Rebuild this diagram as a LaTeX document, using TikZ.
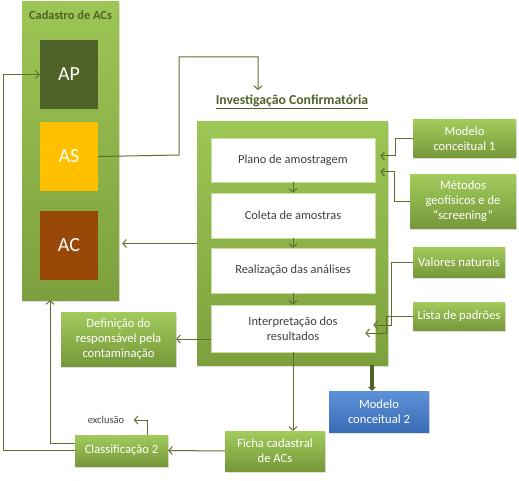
\documentclass[tikz,border=0pt]{standalone}
\usepackage{fontspec}
\setmainfont{Carlito}
\usetikzlibrary{arrows.meta,shadows,calc}
\definecolor{lnc}{HTML}{5E6E2E}
\definecolor{dkg}{HTML}{4F6228}
\definecolor{gtop}{HTML}{A2CB5C}
\definecolor{gbot}{HTML}{76983A}
\definecolor{ctop}{HTML}{9CC655}
\definecolor{cbot}{HTML}{7DA03E}
\definecolor{btop}{HTML}{5D92D8}
\definecolor{bbot}{HTML}{3A6CB5}
\definecolor{txg}{HTML}{404040}
\definecolor{asyel}{HTML}{FFC000}
\definecolor{acbrn}{HTML}{984807}
\tikzset{
  shad/.style={drop shadow={opacity=0.25,shadow xshift=1.2pt,shadow yshift=-1.5pt}},
  container/.style={shad,top color=ctop,bottom color=cbot,draw=none,inner sep=0pt},
  gbox/.style={shad,top color=gtop,bottom color=gbot,draw=none,text=white,align=center,font=\fontsize{12.6}{15}\selectfont,inner sep=1pt},
  bbox/.style={shad,top color=btop,bottom color=bbot,draw=none,text=white,align=center,font=\fontsize{12.6}{15}\selectfont},
  wbox/.style={fill=white,draw=gtop!60,line width=0.6pt,text=txg,align=center,font=\fontsize{12.4}{15}\selectfont,minimum width=164pt},
  abox/.style={draw=none,text=white,font=\fontsize{20}{22}\selectfont,minimum width=58pt,minimum height=69pt},
  conn/.style={draw=lnc,line width=1pt,-{Straight Barb[length=3.5pt,width=8pt,line width=1pt]}},
  thickconn/.style={draw=dkg,line width=3.5pt,-{Triangle[length=4pt,width=8pt]}},
}
\begin{document}
\begin{tikzpicture}[x=1pt,y=-1pt]
\useasboundingbox (0,0) rectangle (519,481);
% Cadastro container
\node[container,minimum width=97pt,minimum height=298pt] (cad) at (70.5,151) {};
\node[text=dkg,font=\bfseries\fontsize{12.4}{14}\selectfont] (cadt) at (70.5,15) {Cadastro de ACs};
\node[abox,fill=dkg] (AP) at (69,74.5) {AP};
\node[abox,fill=asyel] (AS) at (69,156.5) {AS};
\node[abox,fill=acbrn] (AC) at (69,245) {AC};

% Investigacao
\node[text=dkg,font=\bfseries\fontsize{13.7}{15}\selectfont] (invt) at (292,102) {\underline{Investigação Confirmatória}};
\node[container,minimum width=191pt,minimum height=243pt] (inv) at (292.5,243.5) {};
\node[wbox,minimum height=44pt] (plano) at (293,160) {Plano de amostragem};
\node[wbox,minimum height=45pt] (coleta) at (293,215.5) {Coleta de amostras};
\node[wbox,minimum height=45pt] (real) at (293,270.5) {Realização das análises};
\node[wbox,minimum height=47pt] (interp) at (293,328.5) {Interpretação dos\\resultados};

% right boxes
\node[gbox,minimum width=103pt,minimum height=38pt] (m1) at (464.5,139) {Modelo\\conceitual 1};
\node[gbox,minimum width=106pt,minimum height=53pt] (met) at (463,201.5) {Métodos\\geofísicos e de\\“screening”};
\node[gbox,minimum width=92pt,minimum height=30pt] (val) at (459,262) {Valores naturais};
\node[gbox,minimum width=92pt,minimum height=28pt] (lis) at (459,316) {Lista de padrões};

% bottom boxes
\node[gbox,minimum width=115pt,minimum height=54pt] (def) at (118.5,339) {Definição do\\responsável pela\\contaminação};
\node[gbox,minimum width=93pt,minimum height=31pt] (cl2) at (121.5,450.5) {Classificação 2};
\node[gbox,minimum width=100pt,minimum height=40pt] (fic) at (275,451) {Ficha cadastral\\de ACs};
\node[bbox,minimum width=100pt,minimum height=41pt] (m2) at (379,411.5) {Modelo\\conceitual 2};
\node[text=txg,font=\fontsize{10.5}{12}\selectfont] (excl) at (106,420) {exclusão};

% coordinates
\coordinate (invtop) at (258,90);
\coordinate (x50) at (50,0);
\coordinate (m2t) at ([xshift=-7pt]m2.north);

% connectors
\draw[conn] (AS.east) -- (179,155) -- (179,57) -| (invtop);
\draw[conn] (cl2.west) -- (3,450.5) |- (AP.west);
\draw[conn] ([yshift=7.5pt]cl2.west) -| (x50 |- cad.south);
\draw[conn] ([xshift=25.5pt]cl2.north) |- ([xshift=6pt]excl.east);
\draw[conn] (fic.west) -- (cl2.east);
\draw[conn] (interp.south) -- (interp.south |- fic.north);
\draw[thickconn] (m2t |- inv.south) -- (m2t);
\draw[conn,shorten >=3pt] (inv.west) -- (inv.west -| cad.east);
\draw[conn] (interp.west |- def.east) -- (def.east);
\draw[conn] (m1.west) -- ++(-17,0) |- ([xshift=5pt,yshift=4pt]plano.east);
\draw[conn] (met.west) -- ++(-15,0) |- ([xshift=5pt,yshift=-12pt]plano.east);
\draw[conn] (val.west) -- ++(-21,0) |- ([xshift=-2pt,yshift=3.5pt]interp.east);
\draw[conn] (lis.west) -- ++(-26,0) |- ([xshift=-10pt,yshift=-4.5pt]interp.east);
\draw[conn] (plano.south) -- (coleta.north);
\draw[conn] (coleta.south) -- (real.north);
\draw[conn] (real.south) -- (interp.north);
\end{tikzpicture}
\end{document}
